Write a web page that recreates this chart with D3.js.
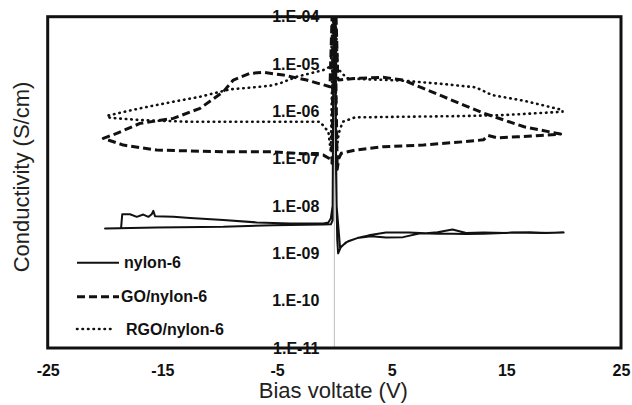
<!DOCTYPE html>
<html>
<head>
<meta charset="utf-8">
<script src="https://cdn.jsdelivr.net/npm/d3@7/dist/d3.min.js"></script>
<style>
  html, body { margin: 0; padding: 0; background: #fff; }
  svg { display: block; font-family: "Liberation Sans", Arial, sans-serif; }
</style>
</head>
<body>
<svg id="chart" width="632" height="405"></svg>
<script>
// ---------- data ----------
const xTicks = [-25, -15, -5, 5, 15, 25];
const yTickValues = [1e-4, 1e-5, 1e-6, 1e-7, 1e-8, 1e-9, 1e-10, 1e-11];
const yTickLabels = ["1.E-04", "1.E-05", "1.E-06", "1.E-07", "1.E-08", "1.E-09", "1.E-10", "1.E-11"];
const seriesNames = ["nylon-6", "GO/nylon-6", "RGO/nylon-6"];

// [bias voltage (V), conductivity (S/cm)] in sweep order
const nylon6 = [
  [0.1,1e-4],[0.15,5e-8],[0.25,2e-9],[0.33,1.0e-9],[0.6,1.4e-9],[1.2,1.8e-9],[2,2.1e-9],[3,2.4e-9],
  [4.5,2.75e-9],[6.5,2.75e-9],[8,2.65e-9],[9,2.8e-9],[10.3,3.2e-9],[11.5,2.7e-9],[13,2.75e-9],
  [15,2.7e-9],[17,2.8e-9],[18.5,2.7e-9],[20,2.75e-9],
  [18,2.7e-9],[15.5,2.75e-9],[13,2.6e-9],[11.5,2.55e-9],[10.3,2.6e-9],[9,2.6e-9],[7.5,2.65e-9],
  [6,2.2e-9],[4.5,2.15e-9],[3.2,2.3e-9],[2,2.1e-9],[1,1.7e-9],[0.5,1.3e-9],[0.2,1e-8],[0.02,1e-4],
  [-0.08,1e-4],[-0.15,5e-9],[-0.3,4.1e-9],[-0.96,4.07e-9],[-5.32,3.94e-9],[-9.68,3.63e-9],
  [-15.5,3.5e-9],[-20,3.36e-9],[-18.6,3.4e-9],[-18.5,6.7e-9],[-17.82,6.7e-9],[-17.23,5.9e-9],
  [-16.66,6.6e-9],[-16.22,5.9e-9],[-15.93,6.7e-9],[-15.79,7.9e-9],[-15.64,6.1e-9],[-14.04,5.9e-9],
  [-12.58,5.6e-9],[-9.68,5.04e-9],[-6.77,4.5e-9],[-3.86,4.28e-9],[-0.96,4.28e-9],[-0.52,4.5e-9],
  [-0.31,5.45e-9],[-0.15,1e-8],[-0.05,1e-4]
];
const goNylon6 = [
  [0.15,1e-4],[0.3,5e-6],[0.38,4.6e-6],[1.5,4.9e-6],[3,5.1e-6],[4.25,5.24e-6],[6,4.59e-6],
  [7.77,3.06e-6],[9.52,2.04e-6],[11.28,1.36e-6],[13.05,9.1e-7],[14.8,6.55e-7],[16.55,4.72e-7],
  [19.73,3.31e-7],
  [18,3.1e-7],[16,2.9e-7],[14.2,2.75e-7],[13.4,3.1e-7],[13,2.5e-7],[11.28,2.28e-7],[7.77,1.94e-7],
  [4.25,1.79e-7],[1.79,1.52e-7],[0.6,1.3e-7],[0.38,1.0e-7],[0.25,6e-8],[0.05,1e-4],
  [-0.1,1e-4],[-0.2,8e-8],[-0.4,1.0e-7],[-0.96,1.19e-7],[-5.32,1.4e-7],[-9.68,1.4e-7],
  [-15.5,1.52e-7],[-18.4,1.94e-7],[-20.15,2.69e-7],[-18.98,3.42e-7],[-16.95,5.57e-7],
  [-14.04,7.11e-7],[-11.71,1.16e-6],[-9.68,2.6e-6],[-8.81,4.59e-6],[-7.35,6.35e-6],
  [-6.19,6.67e-6],[-4.45,5.85e-6],[-2.41,4.59e-6],[-0.38,3.31e-6],[-0.2,1e-4]
];
const rgoNylon6 = [
  [0.1,1e-4],[0.3,8e-6],[1.09,4.98e-6],[3.5,4.7e-6],[6.01,4.44e-6],[9.52,3.78e-6],[12.34,3.21e-6],
  [13.75,2.21e-6],[16.56,1.67e-6],[19.9,1.07e-6],
  [19.9,9.8e-7],[14.8,8.36e-7],[11.28,7.96e-7],[6.01,7.69e-7],[1.79,7.46e-7],[0.73,6.03e-7],
  [0.38,3.43e-7],[0.2,1.5e-7],[0.05,1e-4],
  [-0.1,1e-4],[-0.31,1.4e-7],[-0.52,3.7e-7],[-1.25,6.03e-7],[-6.77,6.03e-7],[-12.58,6.03e-7],
  [-16.95,6.55e-7],[-19.56,7.3e-7],[-19.85,8.07e-7],[-16.95,1.16e-6],[-14.04,1.6e-6],
  [-11.71,2.04e-6],[-9.1,2.92e-6],[-7.35,3.16e-6],[-5.61,3.48e-6],[-4.74,3.91e-6],
  [-3.28,5.4e-6],[-0.96,7.46e-6],[-0.3,9e-6],[-0.15,1e-4]
];

// ---------- layout ----------
const svg = d3.select("#chart");
const mLeft = 47.7, mRight = 621, mTop = 16.7, mBottom = 348;
const x = d3.scaleLinear().domain([-25, 25]).range([mLeft, mRight]);
const y = d3.scaleLog().domain([1e-11, 1e-4]).range([mBottom, mTop]);

const styles = [
  { data: nylon6, width: 2, dash: null, cap: "butt" },
  { data: goNylon6, width: 3, dash: "8,4", cap: "butt" },
  { data: rgoNylon6, width: 2.6, dash: "0.5,5", cap: "round" }
];

svg.append("defs").append("clipPath").attr("id", "plotclip")
  .append("rect").attr("x", mLeft).attr("y", mTop)
  .attr("width", mRight - mLeft).attr("height", mBottom - mTop);

// zero line (light grey)
svg.append("line")
  .attr("x1", x(0)).attr("x2", x(0))
  .attr("y1", y(1e-4)).attr("y2", y(1e-11))
  .attr("stroke", "#bdbdbd").attr("stroke-width", 1);

// curves
const line = d3.line().x(d => x(d[0])).y(d => y(d[1]));
const curves = svg.append("g").attr("clip-path", "url(#plotclip)");
styles.forEach(s => {
  curves.append("path")
    .attr("d", line(s.data))
    .attr("fill", "none")
    .attr("stroke", "#111")
    .attr("stroke-width", s.width)
    .attr("stroke-linejoin", "round")
    .attr("stroke-linecap", s.cap)
    .attr("stroke-dasharray", s.dash);
});

// y axis labels along x = 0
const yAxis = d3.axisLeft(y)
  .tickValues(yTickValues)
  .tickFormat((d, i) => yTickLabels[i])
  .tickSize(0).tickPadding(15);
const gy = svg.append("g").attr("transform", `translate(${x(0)},0)`).call(yAxis);
gy.select(".domain").remove();
gy.selectAll("text")
  .attr("fill", "#111")
  .style("font-size", "16px").style("font-weight", "bold")
  .style("font-family", "'Liberation Sans', Arial, sans-serif");

// x axis labels
const xAxis = d3.axisBottom(x).tickValues(xTicks).tickFormat(d3.format("d"))
  .tickSize(0).tickPadding(17);
const gx = svg.append("g").attr("transform", `translate(0,${mBottom})`).call(xAxis);
gx.select(".domain").remove();
gx.selectAll("text")
  .attr("fill", "#111")
  .style("font-size", "16px").style("font-weight", "bold")
  .style("font-family", "'Liberation Sans', Arial, sans-serif");
gx.selectAll("text").text(d => d < 0 ? "-" + Math.abs(d) : String(d));

// frame
svg.append("rect")
  .attr("x", mLeft).attr("y", mTop)
  .attr("width", mRight - mLeft).attr("height", mBottom - mTop)
  .attr("fill", "none").attr("stroke", "#111").attr("stroke-width", 3);

// axis titles
svg.append("text")
  .attr("x", (mLeft + mRight) / 2 - 1).attr("y", 398)
  .attr("text-anchor", "middle")
  .attr("fill", "#222")
  .style("font-size", "22px")
  .text("Bias voltate (V)");
svg.append("text")
  .attr("transform", "translate(29,177) rotate(-90)")
  .attr("text-anchor", "middle")
  .attr("fill", "#222")
  .style("font-size", "22px")
  .text("Conductivity (S/cm)");

// legend
const legendRows = [262.7, 296.7, 329];
const legendTextX = [124, 121, 126];
const legendLineEnd = [119, 119, 113];
const lg = svg.append("g");
seriesNames.forEach((name, i) => {
  const s = styles[i];
  lg.append("line")
    .attr("x1", 77).attr("x2", legendLineEnd[i])
    .attr("y1", legendRows[i]).attr("y2", legendRows[i])
    .attr("stroke", "#111").attr("stroke-width", s.width)
    .attr("stroke-linecap", s.cap)
    .attr("stroke-dasharray", s.dash);
  lg.append("text")
    .attr("x", legendTextX[i]).attr("y", legendRows[i] + 5.7)
    .attr("fill", "#111")
    .style("font-size", "16px").style("font-weight", "bold")
    .text(name);
});
</script>
</body>
</html>
